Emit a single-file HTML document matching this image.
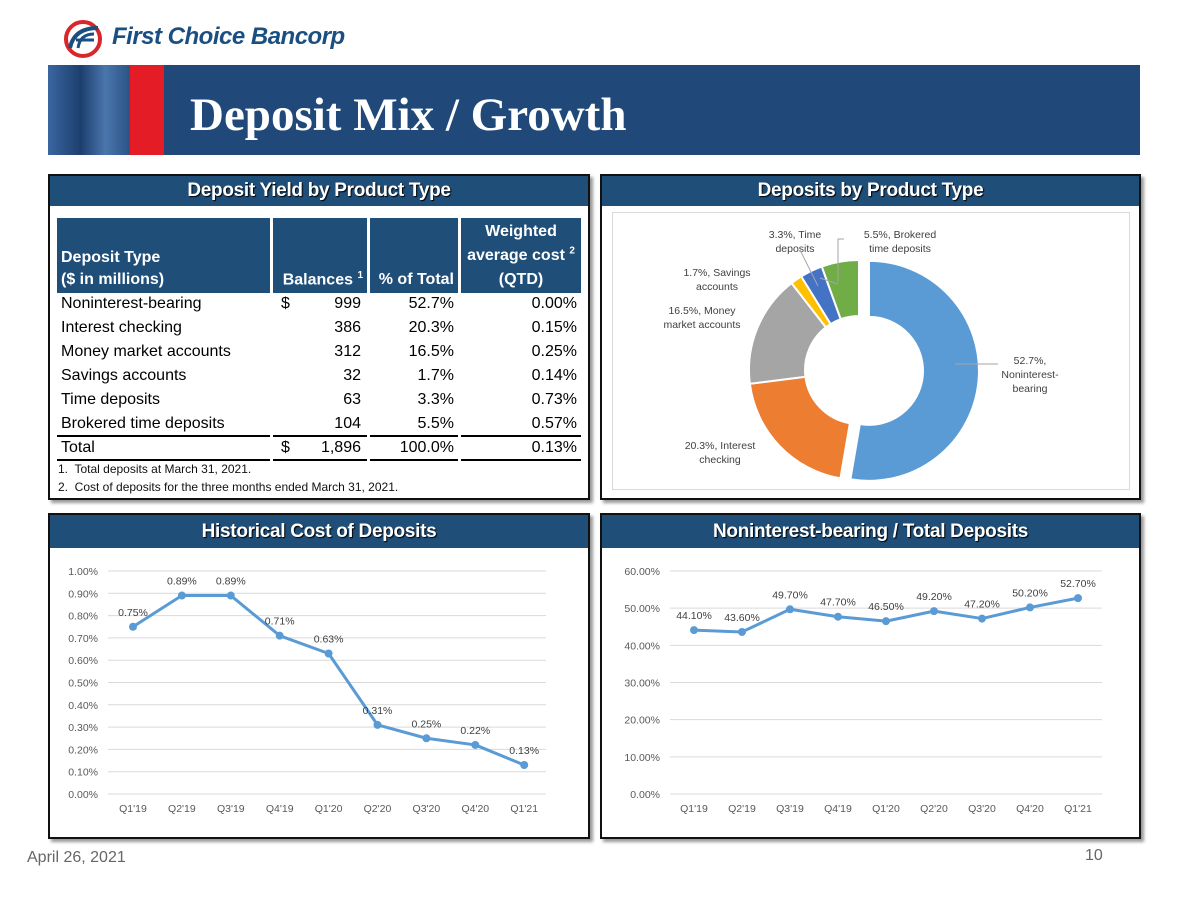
<!DOCTYPE html>
<html><head><meta charset="utf-8">
<style>
body{margin:0;width:1197px;height:898px;background:#fff;position:relative;overflow:hidden;font-family:"Liberation Sans",sans-serif}
.abs{position:absolute}
.panel{position:absolute;border:2px solid #111;box-shadow:3px 3px 3px #999;background:#fff;box-sizing:border-box}
.ph{position:absolute;left:0;right:0;top:0;height:30px;background:#1f4e79;color:#fff;font-weight:bold;font-size:19px;text-align:center;line-height:30px;text-shadow:1px 1px 1px #000;letter-spacing:-0.3px}
table{border-collapse:separate;border-spacing:3px 0;font-size:16px}
td{padding:0;line-height:22px}
</style></head><body>
<div class="abs" style="left:62px;top:18px;width:300px;height:40px">
<svg width="45" height="40"><circle cx="21" cy="21" r="17" fill="none" stroke="#d9262b" stroke-width="4"/><path d="M8 30 Q12 10 36 10" stroke="#1b4f82" stroke-width="4" fill="none"/><path d="M14 22 H32 M16 30 Q18 16 32 16" stroke="#1b4f82" stroke-width="3" fill="none"/></svg>
<span style="position:absolute;left:50px;top:5px;font-size:24px;font-weight:bold;font-style:italic;color:#1b4f82;letter-spacing:-0.5px">First Choice Bancorp</span>
</div>
<div class="abs" style="left:48px;top:65px;width:1092px;height:90px;background:#20497a">
<div class="abs" style="left:0;top:0;width:82px;height:90px;background:linear-gradient(90deg,#3a66a0,#1d3f6f 40%,#4a76ad 70%,#2b5386)"></div>
<div class="abs" style="left:82px;top:0;width:34px;height:90px;background:#e31c25"></div>
<div class="abs" style="left:142px;top:23px;font-family:'Liberation Serif',serif;font-weight:bold;font-size:47px;color:#fff">Deposit Mix / Growth</div>
</div>

<div class="panel" style="left:48px;top:174px;width:542px;height:326px">
<div class="ph">Deposit Yield by Product Type</div>
<table style="position:absolute;left:4px;top:42px;width:530px">
<tr style="background:#1f4e79;color:#fff;font-weight:bold;height:75px;font-size:16px">
<td style="vertical-align:bottom;padding:0 4px 2px;width:205px">Deposit Type<br>($ in millions)</td>
<td style="vertical-align:bottom;text-align:right;padding:0 4px 2px;width:86px">Balances <sup style="font-size:10px">1</sup></td>
<td style="vertical-align:bottom;text-align:right;padding:0 4px 2px;width:80px">% of Total</td>
<td style="vertical-align:bottom;text-align:center;padding:0 4px 1px;line-height:24px">Weighted<br>average cost <sup style="font-size:10px;line-height:0">2</sup><br>(QTD)</td></tr>
<tbody id="tb"></tbody>
</table>
<div style="position:absolute;left:8px;top:284px;font-size:12px;line-height:18px;color:#111">1.&nbsp; Total deposits at March 31, 2021.<br>2.&nbsp; Cost of deposits for the three months ended March 31, 2021.</div>
</div>

<div class="panel" style="left:600px;top:174px;width:541px;height:326px">
<div class="ph">Deposits by Product Type</div>
<div class="abs" style="left:10px;top:36px;width:516px;height:276px;border:1px solid #d9d9d9"></div>
<svg id="pie" class="abs" style="left:-2px;top:-2px" width="541" height="326"></svg>
</div>

<div class="panel" style="left:48px;top:513px;width:542px;height:326px">
<div class="ph" style="height:33px;line-height:33px">Historical Cost of Deposits</div>
<svg id="c1" class="abs" style="left:-2px;top:-2px" width="542" height="326"></svg>
</div>

<div class="panel" style="left:600px;top:513px;width:541px;height:326px">
<div class="ph" style="height:33px;line-height:33px">Noninterest-bearing / Total Deposits</div>
<svg id="c2" class="abs" style="left:-2px;top:-2px" width="541" height="326"></svg>
</div>

<div class="abs" style="left:27px;top:849px;font-size:16px;color:#666">April 26, 2021</div>
<div class="abs" style="left:1085px;top:847px;font-size:16px;color:#666">10</div>

<script>
const NS='http://www.w3.org/2000/svg';
// table data
const rowNames=['Noninterest-bearing','Interest checking','Money market accounts','Savings accounts','Time deposits','Brokered time deposits','Total'];
const rowBal=['999','386','312','32','63','104','1,896'];
const rowPct=['52.7%','20.3%','16.5%','1.7%','3.3%','5.5%','100.0%'];
const rowCost=['0.00%','0.15%','0.25%','0.14%','0.73%','0.57%','0.13%'];
// donut data
const pieLabels=['Noninterest-bearing','Interest checking','Money market accounts','Savings accounts','Time deposits','Brokered time deposits'];
const pieValues=[52.7,20.3,16.5,1.7,3.3,5.5];
// line chart 1
const qCats=['Q1\'19','Q2\'19','Q3\'19','Q4\'19','Q1\'20','Q2\'20','Q3\'20','Q4\'20','Q1\'21'];
const costVals=[0.75,0.89,0.89,0.71,0.63,0.31,0.25,0.22,0.13];
const costTicks=[0,0.1,0.2,0.3,0.4,0.5,0.6,0.7,0.8,0.9,1.0];
// line chart 2
const nibVals=[44.1,43.6,49.7,47.7,46.5,49.2,47.2,50.2,52.7];
const nibTicks=[0,10,20,30,40,50,60];

const tb=document.getElementById('tb');
rowNames.forEach((n,i)=>{
 const tr=document.createElement('tr');
 
 
 tr.style.height='24px';
 const last=i===rowNames.length-1, preTot=i===rowNames.length-2;
 const bs=(last||preTot?'border-bottom:2px solid #000;':'border-bottom:2px solid transparent;');
 const dollar=(i===0||last)?'<span style="float:left;padding-left:2px">$</span>':'';
 tr.innerHTML=`<td style="padding:0 4px;${bs}">${n}</td><td style="text-align:right;padding:0 6px;${bs}">${dollar}${rowBal[i]}</td><td style="text-align:right;padding:0 4px;${bs}">${rowPct[i]}</td><td style="text-align:right;padding:0 4px;${bs}">${rowCost[i]}</td>`;
 tb.appendChild(tr);
});

function el(p,t,a){const e=document.createElementNS(NS,t);for(const k in a)e.setAttribute(k,a[k]);p.appendChild(e);return e;}

// donut
(function(){
 const s=document.getElementById('pie');
 const cx=259,cy=196,R=110,r=54;
 const cols=['#5b9bd5','#ed7d31','#a5a5a5','#ffc000','#4472c4','#70ad47'];
 const total=pieValues.reduce((a,b)=>a+b,0);
 let a0=0;
 const lblPos=[[430,190],[120,275],[102,140],[117,102],[195,64],[300,64]];
 pieValues.forEach((v,i)=>{
  const a1=a0+v/total*2*Math.PI;
  const mid=(a0+a1)/2;
  const off=i===0?10:0;
  const ox=cx+off*Math.sin(mid), oy=cy-off*Math.cos(mid);
  const P=(rad,a)=>[ox+rad*Math.sin(a),oy-rad*Math.cos(a)];
  const lg=(a1-a0)>Math.PI?1:0;
  const [x1,y1]=P(R,a0),[x2,y2]=P(R,a1),[x3,y3]=P(r,a1),[x4,y4]=P(r,a0);
  const p=el(s,'path',{d:`M${x1},${y1}A${R},${R} 0 ${lg} 1 ${x2},${y2}L${x3},${y3}A${r},${r} 0 ${lg} 0 ${x4},${y4}Z`,fill:cols[i],stroke:'#fff','stroke-width':2});
  
  
  const t=el(s,'text',{x:lblPos[i][0],y:lblPos[i][1],'font-size':'10.5','fill':'#404040','text-anchor':'middle','font-family':'Liberation Sans'});
  
  
  const words=(v.toFixed(1)+'%, '+pieLabels[i]);
  const lines=i===0?[v.toFixed(1)+'%,','Noninterest-','bearing']:i===5?[v.toFixed(1)+'%, Brokered','time deposits']:i===2?[v.toFixed(1)+'%, Money','market accounts']:(()=>{const w=words.split(' ');return [w.slice(0,2).join(' '),w.slice(2).join(' ')];})();
  lines.forEach((l,j)=>{const ts=el(t,'tspan',{x:lblPos[i][0],dy:j?14:0});ts.textContent=l;});
  a0=a1;
 });
 el(s,'line',{x1:355,y1:190,x2:398,y2:190,stroke:'#a6a6a6'});
 el(s,'path',{d:'M238,110 L220,104',stroke:'#a6a6a6',fill:'none'});
 el(s,'path',{d:'M218,112 L200,76',stroke:'#a6a6a6',fill:'none'});
 el(s,'path',{d:'M238,108 L238,65 L244,65',stroke:'#a6a6a6',fill:'none'});
})();

function lineChart(id,vals,ticks,cats,xl,xr,px0,step,yTop,yBot,max,fmt,tfmt,ylx){
 const s=document.getElementById(id);
 const y=v=>yBot-(v/max)*(yBot-yTop);
 const x=i=>px0+i*step;
 ticks.forEach(t=>{
  const l=el(s,'line',{x1:xl,x2:xr,y1:y(t),y2:y(t),stroke:'#d9d9d9'});
  
  
  const tx=el(s,'text',{x:ylx,y:y(t)+4,'font-size':'10.5',fill:'#595959','text-anchor':'end','font-family':'Liberation Sans'});
  
  
  tx.textContent=tfmt(t);
 });
 cats.forEach((c,i)=>{
  const tx=el(s,'text',{x:x(i),y:yBot+18,'font-size':'10.5',fill:'#595959','text-anchor':'middle','font-family':'Liberation Sans'});
  
  
  tx.textContent=c;
 });
 const pl=el(s,'polyline',{points:vals.map((v,i)=>x(i)+','+y(v)).join(' '),fill:'none',stroke:'#5b9bd5','stroke-width':3,'stroke-linejoin':'round'});
 
 
 vals.forEach((v,i)=>{
  const c=el(s,'circle',{cx:x(i),cy:y(v),r:4,fill:'#5b9bd5'});
  
  
  const tx=el(s,'text',{x:x(i),y:y(v)-11,'font-size':'10.5',fill:'#404040','text-anchor':'middle','font-family':'Liberation Sans'});
  
  
  tx.textContent=fmt(v);
 });
}
lineChart('c1',costVals,costTicks,qCats,108-48,546-48,133-48,48.9,571-513,794-513,1.0,v=>v.toFixed(2)+'%',t=>t.toFixed(2)+'%',98-48);
lineChart('c2',nibVals,nibTicks,qCats,670-600,1102-600,694-600,48,571-513,794-513,60,v=>v.toFixed(2)+'%',t=>t.toFixed(2)+'%',660-600);
</script>
</body></html>
